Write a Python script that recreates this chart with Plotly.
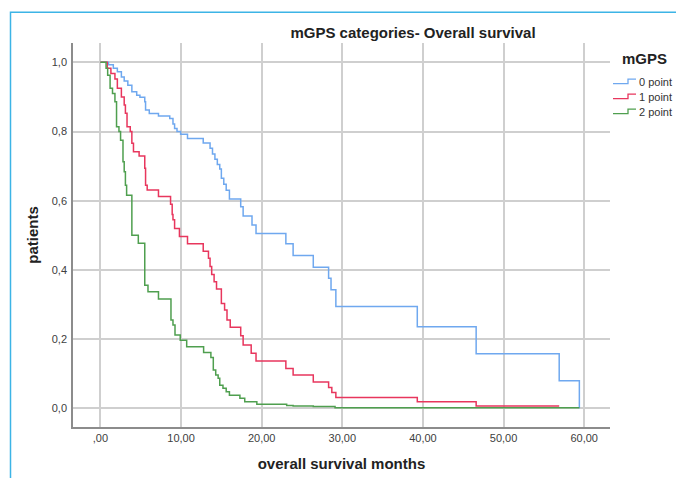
import plotly.graph_objects as go

# ---- data ----
x_tick_vals = [0, 10, 20, 30, 40, 50, 60]
x_tick_text = [",00", "10,00", "20,00", "30,00", "40,00", "50,00", "60,00"]
y_tick_vals = [0.0, 0.2, 0.4, 0.6, 0.8, 1.0]
y_tick_text = ["0,0", "0,2", "0,4", "0,6", "0,8", "1,0"]

group_names = ["0 point", "1 point", "2 point"]

time_0 = [0, 1.0, 1.6, 2.1, 2.6, 2.95, 3.4, 3.9, 4.5, 4.9, 5.5, 5.6, 6.06, 7.2, 8.6,
          9.0, 9.2, 9.5, 9.95, 10.8, 12.75, 13.6, 13.9, 14.2, 14.5, 14.8, 15.0, 15.3,
          15.6, 16.0, 17.4, 17.7, 18.8, 19.3, 23.0, 23.9, 26.4, 28.3, 28.6, 29.2,
          39.3, 46.6, 56.9, 59.4, 59.4]
surv_0 = [1.0, 0.993, 0.983, 0.973, 0.958, 0.946, 0.934, 0.915, 0.905, 0.899, 0.886,
          0.862, 0.852, 0.845, 0.838, 0.822, 0.809, 0.800, 0.792, 0.780, 0.767, 0.752,
          0.735, 0.720, 0.705, 0.692, 0.665, 0.648, 0.630, 0.605, 0.583, 0.556, 0.530,
          0.505, 0.476, 0.442, 0.408, 0.376, 0.343, 0.294, 0.236, 0.158, 0.080, 0.080,
          0.0]

time_1 = [0, 0.85, 1.3, 1.8, 2.1, 2.6, 2.95, 3.1, 3.3, 3.7, 3.9, 4.1, 4.8, 5.5, 5.6,
          5.8, 7.2, 8.7, 8.9, 9.0, 9.2, 9.8, 10.8, 12.75, 13.4, 13.6, 13.8, 14.1, 14.4,
          15.0, 15.4, 15.7, 16.1, 17.4, 17.7, 18.7, 19.3, 23.0, 23.9, 26.4, 28.3, 28.7,
          29.2, 39.3, 46.6, 56.9]
surv_1 = [1.0, 0.983, 0.968, 0.952, 0.925, 0.900, 0.877, 0.853, 0.814, 0.800, 0.766,
          0.742, 0.729, 0.694, 0.645, 0.631, 0.612, 0.590, 0.560, 0.545, 0.520, 0.497,
          0.476, 0.454, 0.434, 0.410, 0.387, 0.366, 0.345, 0.303, 0.284, 0.255, 0.234,
          0.210, 0.183, 0.159, 0.137, 0.115, 0.096, 0.076, 0.060, 0.046, 0.031, 0.019,
          0.007, 0.007]

time_2 = [0, 0.7, 0.9, 1.2, 1.5, 1.8, 2.0, 2.3, 2.5, 2.8, 2.95, 3.1, 3.25, 3.9, 4.7,
          5.5, 5.9, 7.2, 8.75, 9.0, 9.25, 9.9, 10.7, 12.8, 13.7, 14.0, 14.3, 14.6, 14.8,
          15.2, 15.6, 16.0, 17.3, 17.9, 19.4, 23.1, 23.9, 26.4, 29.1, 59.4]
surv_2 = [1.0, 0.983, 0.963, 0.925, 0.910, 0.886, 0.814, 0.800, 0.775, 0.713, 0.684,
          0.645, 0.616, 0.500, 0.477, 0.356, 0.337, 0.316, 0.255, 0.241, 0.212, 0.197,
          0.178, 0.161, 0.147, 0.111, 0.096, 0.087, 0.067, 0.058, 0.048, 0.038, 0.029,
          0.019, 0.012, 0.008, 0.007, 0.005, 0.002, 0.002]

colors = ["#6fa8ef", "#e8365d", "#4f9f4f"]

# The page body has an 8px default margin, so the figure is offset by 8px.
OFF = 8
FIG_W, FIG_H = 684 - OFF, 478 - OFF
# plot-area geometry in page pixels (used only to place decorations)
L, R, T, B = 73, 610, 43, 427
W, H = R - L, B - T


def px(x):
    return (x - L) / W


def py(y):
    return (B - y) / H


fig = go.Figure()
for name, t, s, c in zip(group_names, [time_0, time_1, time_2],
                         [surv_0, surv_1, surv_2], colors):
    fig.add_trace(go.Scatter(x=t, y=s, mode="lines", name=name, showlegend=False,
                             line=dict(color=c, width=1.5, shape="hv")))

axis_common = dict(showgrid=True, gridcolor="#cfcfcf", gridwidth=1.5, automargin=False,
                   zeroline=False, showline=True, linecolor="#8c8c8c", linewidth=1.5,
                   ticks="", tickfont=dict(family="Liberation Sans, Arial", size=11, color="#404040"))

# custom legend (step-shaped glyphs like the original)
annotations = [dict(text="<b>mGPS</b>", xref="paper", yref="paper",
                    x=px(644.5), y=py(58), xanchor="center", yanchor="middle",
                    showarrow=False, font=dict(size=15, color="#222"))]
shapes = [dict(type="rect", xref="paper", yref="paper",
               x0=px(10.5), x1=px(720), y0=py(520), y1=py(12.3),
               line=dict(color="#3cb4e6", width=1.5), layer="below")]
for i, (name, c) in enumerate(zip(group_names, colors)):
    yc = 81.7 + 15 * i
    annotations.append(dict(text=name, xref="paper", yref="paper",
                            x=px(637), y=py(yc), xanchor="left", yanchor="middle",
                            showarrow=False, font=dict(size=11, color="#333")))
    path = (f"M {px(613)},{py(yc + 2)} L {px(628)},{py(yc + 2)} "
            f"L {px(628)},{py(yc - 2.5)} L {px(636)},{py(yc - 2.5)}")
    shapes.append(dict(type="path", xref="paper", yref="paper", path=path,
                       line=dict(color=c, width=1.3)))

fig.update_layout(
    width=FIG_W, height=FIG_H,
    margin=dict(l=L - OFF, r=684 - R, t=T - OFF, b=478 - B),
    paper_bgcolor="white", plot_bgcolor="white",
    font=dict(family="Liberation Sans, Arial", color="#222"),
    title=dict(text="<b>mGPS categories- Overall survival</b>",
               x=(413 - OFF) / FIG_W, xanchor="center", xref="container",
               y=1 - (33 - OFF) / FIG_H, yanchor="middle", yref="container",
               font=dict(size=15, color="#222")),
    xaxis=dict(range=[-3.4, 63.2], tickvals=x_tick_vals, ticktext=x_tick_text,
               title=dict(text="<b>overall survival months</b>", standoff=16,
                          font=dict(size=15, color="#222")),
               **axis_common),
    yaxis=dict(range=[-0.054, 1.056], tickvals=y_tick_vals, ticktext=y_tick_text,
               ticklabelstandoff=2,
               title=dict(text="<b>patients</b>", standoff=10,
                          font=dict(size=15, color="#222")),
               **axis_common),
    showlegend=False,
    annotations=annotations,
    shapes=shapes,
)

fig.write_html("out.html")
